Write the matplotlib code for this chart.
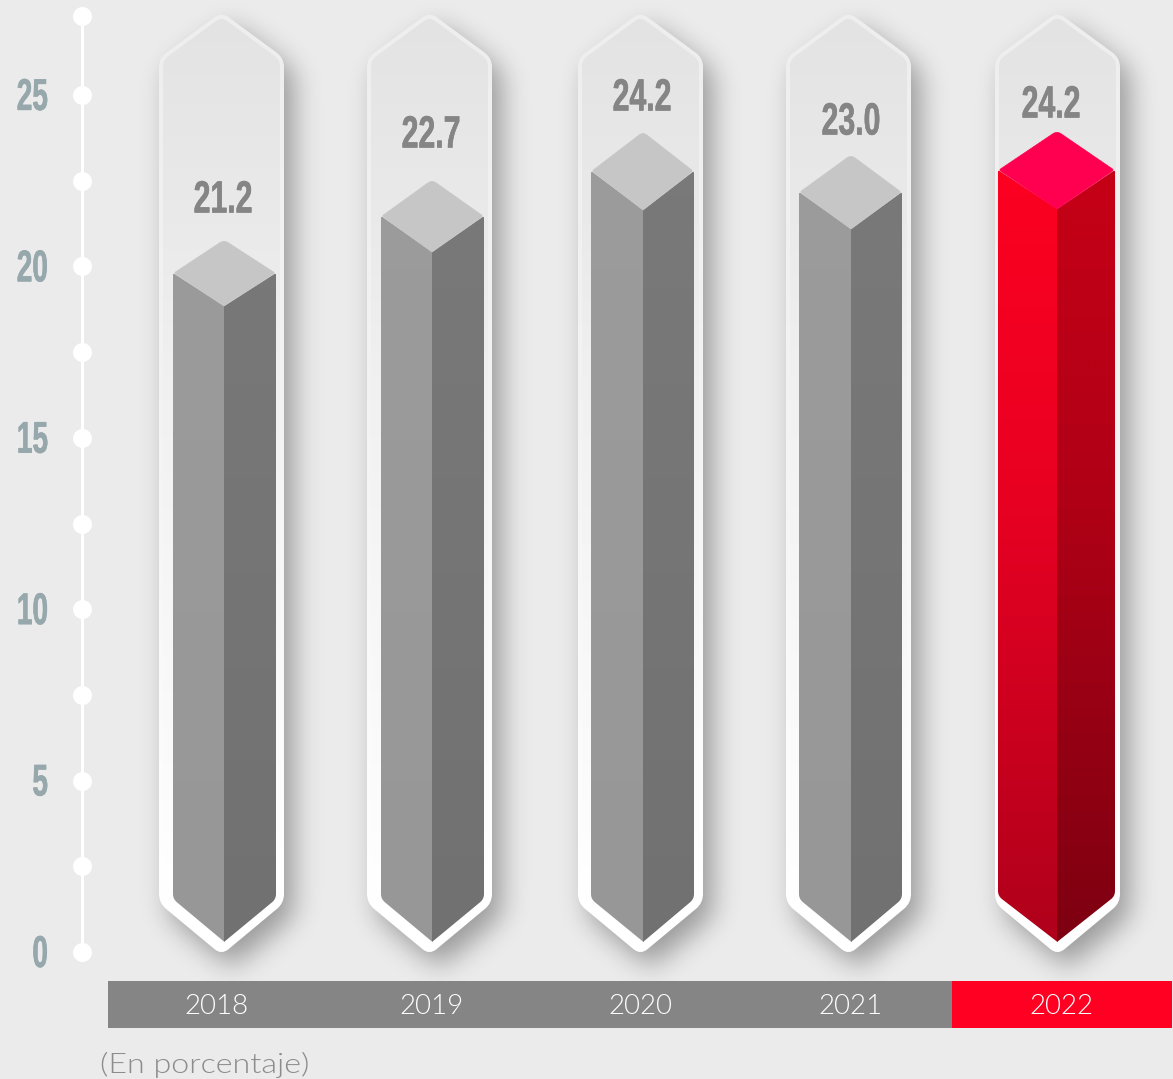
import os, tempfile
import numpy as np
import matplotlib
matplotlib.use("Agg")
import matplotlib.pyplot as plt
import matplotlib.patheffects as pe
from matplotlib.path import Path
from matplotlib.patches import PathPatch
from matplotlib import font_manager as fm
from matplotlib.font_manager import FontProperties
from fontTools.ttLib import TTFont

# ---- data ----
years = ["2018", "2019", "2020", "2021", "2022"]
value_labels = ["21.2", "22.7", "24.2", "23.0", "24.2"]
# top of each column (the drawing is not strictly to scale)
column_tops = [20.77, 22.52, 23.92, 23.25, 23.95]
axis_ticks = [0, 5, 10, 15, 20, 25]
axis_dots = [0, 2.5, 5, 7.5, 10, 12.5, 15, 17.5, 20, 22.5, 25, 27.3]
unit_label = "(En porcentaje)"

# ---- layout (pixels) ----
W, H = 1173, 1079
Y0, PX_PER_UNIT = 952.0, 34.28
AXIS_X = 82.4
cap_rise = [33, 36, 39, 37, 39]
centers = [224, 432, 643, 851, 1057]
bar_l = [173, 381, 591, 799, 998]
bar_r = [276, 484, 694, 902, 1115]
bar_sh = [899, 899, 899, 899, 896]
shell_l = [159, 367, 578, 786, 995]
shell_r = [284, 492, 703, 911, 1120]
label_x = [223, 431, 642, 851, 1051]
label_y = [198, 133, 96, 120, 103]
year_x = [217, 432, 640, 851, 1061]
BG = "#ebebeb"


def Y(px):
    return (Y0 - px) / PX_PER_UNIT


def scaled_font(src, sx):
    f = TTFont(src)
    glyf = f["glyf"]
    for name in glyf.keys():
        g = glyf[name]
        if g.isComposite():
            for c in g.components:
                c.x = int(round(c.x * sx))
        elif g.numberOfContours > 0:
            g.coordinates.scale((sx, 1))
            g.coordinates.toInt()
        if hasattr(g, "program"):
            g.program.fromBytecode(b"")
    hm = f["hmtx"]
    for name, (adv, lsb) in list(hm.metrics.items()):
        hm.metrics[name] = (int(round(adv * sx)), int(round(lsb * sx)))
    for t in ("fpgm", "prep", "cvt ", "hdmx", "VDMX", "LTSH", "kern", "GPOS", "GSUB"):
        if t in f:
            del f[t]
    out = os.path.join(tempfile.mkdtemp(), "scaled.ttf")
    f.save(out)
    return out


lato_light = next((f.fname for f in fm.fontManager.ttflist
                   if f.name == "Lato" and os.path.basename(f.fname).lower() == "lato-light.ttf"),
                  fm.findfont(FontProperties(family="Lato")))
bold_src = fm.findfont(FontProperties(family="Liberation Sans", weight="bold"))
val_fp = FontProperties(fname=scaled_font(bold_src, 0.67))
tick_fp = FontProperties(fname=scaled_font(bold_src, 0.63))
year_fp = FontProperties(fname=scaled_font(lato_light, 1.02))
unit_fp = FontProperties(fname=scaled_font(lato_light, 1.19))


def rounded(points, r):
    verts, codes = [], []
    n = len(points)
    for i in range(n):
        rr = r[i] if hasattr(r, "__len__") else r
        p = np.array(points[i], float)
        a = np.array(points[i - 1], float)
        b = np.array(points[(i + 1) % n], float)
        u = (a - p) / np.linalg.norm(a - p)
        v = (b - p) / np.linalg.norm(b - p)
        verts += [tuple(p + u * rr), tuple(p), tuple(p + v * rr)]
        codes += [Path.LINETO if i else Path.MOVETO, Path.CURVE3, Path.CURVE3]
    verts.append(verts[0])
    codes.append(Path.CLOSEPOLY)
    return Path([(x, Y(y)) for x, y in verts], codes)


def hexrgb(c):
    return np.array(matplotlib.colors.to_rgb(c))


def grad(ax, path, x0, x1, y0, y1, stops, z):
    """Vertical gradient clipped to a path; stops = [(pixel y, colour), ...]."""
    ys = np.arange(y0, y1 + 1)
    sy = [s[0] for s in stops]
    cols = np.array([hexrgb(s[1]) for s in stops])
    img = np.stack([np.interp(ys, sy, cols[:, k]) for k in range(3)], axis=1)[:, None, :]
    im = ax.imshow(img, extent=[x0, x1, Y(y1), Y(y0)], origin="upper", aspect="auto",
                   zorder=z, interpolation="bilinear")
    patch = PathPatch(path, transform=ax.transData, fc="none", ec="none")
    ax.add_patch(patch)
    im.set_clip_path(patch)


def blur(a, sigma):
    fy = np.fft.fftfreq(a.shape[0])[:, None]
    fx = np.fft.rfftfreq(a.shape[1])[None, :]
    k = np.exp(-2 * (np.pi * sigma) ** 2 * (fx ** 2 + fy ** 2))
    return np.fft.irfft2(np.fft.rfft2(a) * k, s=a.shape)


fig = plt.figure(figsize=(W / 100, H / 100), dpi=100, facecolor=BG)
ax = fig.add_axes([0, 0, 1, 1])
ax.axis("off")

# ---- shell outlines, inner outlines and shadow ----
shell_paths, inner_paths = [], []
for i in range(5):
    L, R = shell_l[i], shell_r[i]
    c = (L + R) / 2
    shell_paths.append(rounded([(c, 12), (R, 58), (R, 903), (c, 955), (L, 903), (L, 58)], 9))
    inner_paths.append(rounded([(c, 17), (R - 4, 60), (R - 4, 900), (c, 950), (L + 4, 900), (L + 4, 60)], 6))

gy, gx = np.mgrid[0:H, 0:W]
pts = np.column_stack([gx.ravel() + 0.5 - 10, Y(gy.ravel() + 0.5 - 13)])
mask = np.zeros((H, W))
for p in shell_paths:
    mask += p.contains_points(pts).reshape(H, W)
shadow = np.clip(blur(mask, 13), 0, 1) * 0.34
rgba = np.zeros((H, W, 4))
rgba[..., 3] = shadow
ax.imshow(rgba, extent=[0, W, Y(H), Y(0)], origin="upper", aspect="auto", zorder=1)

border_stops = [(10, "#eeeeee"), (400, "#f3f3f3"), (800, "#fdfdfd"), (900, "#ffffff"), (960, "#ffffff")]
inner_stops = [(10, "#e3e3e3"), (200, "#e9e9e9"), (400, "#f1f1f1"), (800, "#fcfcfc"), (900, "#ffffff"), (960, "#ffffff")]
grey_l = [(100, "#9c9c9c"), (950, "#979797")]
grey_r = [(100, "#7a7a7a"), (950, "#717171")]
red_l = [(130, "#ff0020"), (500, "#e80022"), (950, "#ae001b")]
red_r = [(130, "#c80016"), (500, "#b00016"), (950, "#7c0011")]

for i in range(5):
    z = 2 + i * 0.1
    grad(ax, shell_paths[i], shell_l[i] - 1, shell_r[i] + 1, 8, 960, border_stops, z)
    grad(ax, inner_paths[i], shell_l[i] - 1, shell_r[i] + 1, 8, 960, inner_stops, z + 0.01)

    # columns: two shaded faces plus the lozenge on top, from the read tops
    apex = Y0 - column_tops[i] * PX_PER_UNIT
    rise = cap_rise[i]
    sh, fr = apex + rise, apex + 2 * rise
    l, r, m = bar_l[i], bar_r[i], centers[i]
    s = bar_sh[i]
    red = years[i] == "2022"
    left = rounded([(l, sh), (m + 0.5, fr), (m + 0.5, 942), (l, s)], [2, .1, .1, 5])
    right = rounded([(m, fr), (r, sh), (r, s), (m, 942)], [.1, 2, 5, .1])
    grad(ax, left, l, m + 1, int(sh) - 2, 945, red_l if red else grey_l, z + 0.02)
    grad(ax, right, m, r, int(sh) - 2, 945, red_r if red else grey_r, z + 0.02)
    top = rounded([(m, apex), (r - 1, sh), (m, fr), (l + 1, sh)], [5, 2, .1, 2])
    col = "#ff0050" if red else "#c6c6c6"
    ax.add_patch(PathPatch(top, fc=col, ec=col, lw=0.5, zorder=z + 0.03))
    ax.text(label_x[i], Y(label_y[i] + 3), value_labels[i], ha="center", va="center",
            color="#858585", fontproperties=val_fp, fontsize=32.5, zorder=6,
            path_effects=[pe.withStroke(linewidth=0.4, foreground="#858585")])

# ---- value axis ----
ax.plot([AXIS_X, AXIS_X], [axis_dots[0], axis_dots[-1]], color="white", lw=2.2, zorder=3, solid_capstyle="butt")
ax.scatter([AXIS_X] * len(axis_dots), axis_dots, s=(19 * 0.72) ** 2, color="white", linewidths=0, zorder=4)
for t in axis_ticks:
    ax.text(48, t - 0.1, str(t), ha="right", va="center", color="#96a8ac",
            fontproperties=tick_fp, fontsize=32, zorder=6,
            path_effects=[pe.withStroke(linewidth=0.4, foreground="#96a8ac")])

# ---- year band ----
band_bottom, band_h = Y(1028), Y(981) - Y(1028)
ax.bar(108, band_h, width=844, bottom=band_bottom, align="edge", color="#858585", zorder=5)
ax.bar(952, band_h, width=220, bottom=band_bottom, align="edge", color="#ff0022", zorder=5)
for x, y in zip(year_x, years):
    ax.text(x, Y(1007), y, ha="center", va="center", color="white",
            fontproperties=year_fp, fontsize=19.5, zorder=6)
ax.text(100, Y(1065), unit_label, ha="left", va="center", color="#8c8c8c",
        fontproperties=unit_fp, fontsize=19.5, zorder=6)

ax.set_xlim(0, W)
ax.set_ylim(Y(H), Y(0))
fig.savefig("out.png", dpi=100, facecolor=BG)
